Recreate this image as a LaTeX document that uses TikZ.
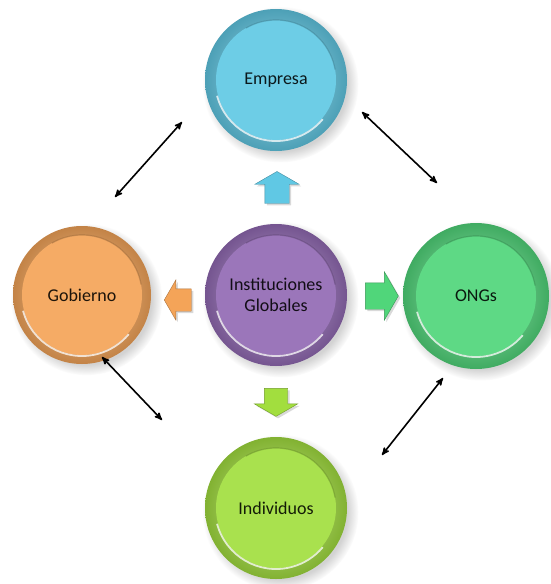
\documentclass[tikz,border=0pt]{standalone}
\usepackage{fontspec}
\setmainfont{Carlito}
\usetikzlibrary{
        arrows,
        positioning,
        shadows,
        shapes.arrows
    }
\definecolor{cEmpresa}{RGB}{96,200,228}
\definecolor{cInst}{RGB}{146,106,180}
\definecolor{cGob}{RGB}{244,164,88}
\definecolor{cOng}{RGB}{80,214,122}
\definecolor{cInd}{RGB}{162,222,62}
\tikzset{
    boton/.style={circle,minimum size=142pt,inner sep=0pt,align=center,
        font=\fontsize{18}{21}\selectfont,text=#1!12!black,
        outer color=#1!80!black,inner color=#1!55!white,
        circular drop shadow={shadow xshift=4pt,shadow yshift=-4pt,opacity=.35},
        path picture={
            \fill[#1!92!white] (path picture bounding box.center) circle (60pt);
            \draw[white,opacity=.75,line width=1.8pt]
                (path picture bounding box.center) ++(195:61pt) arc (195:320:61pt);
            \draw[#1!60!black,opacity=.45,line width=1.2pt]
                (path picture bounding box.center) ++(10:60pt) arc (10:120:60pt);
        }},
    flecha/.style={single arrow,draw=#1!70!black,fill=#1,
        single arrow tip angle=120,
        drop shadow={shadow xshift=2pt,shadow yshift=-2pt,opacity=.3}},
    enlace/.style={<->,>=stealth',line width=1.6pt}
}
\begin{document}
\begin{tikzpicture}[x=1pt,y=-1pt]
                    \useasboundingbox (0,0) rectangle (550,584);
                    \node[boton=cEmpresa] (emp) at (276,80)  {Empresa};
                    \node[boton=cInst]    (ins) at (276,295) {Instituciones\\Globales};
                    \node[boton=cGob,minimum size=138pt] (gob) at (82,295) {Gobierno};
                    \node[boton=cOng,minimum size=146pt] (ong) at (476,296) {ONGs};
                    \node[boton=cInd]     (ind) at (276,508) {Individuos};
                    % flechas del centro
                    \node[flecha=cEmpresa,shape border rotate=90,minimum height=32pt,
                        inner xsep=12pt,inner ysep=0pt,single arrow head extend=10pt] (fe) at (277,191) {};
                    \node[flecha=cGob,shape border rotate=180,minimum height=27pt,
                        inner xsep=0pt,inner ysep=11pt,single arrow head extend=9pt] (fg) at (181,300) {};
                    \node[flecha=cOng,shape border rotate=0,minimum height=33pt,
                        inner xsep=0pt,inner ysep=13pt,single arrow head extend=11pt] (fo) at (378,296) {};
                    \node[flecha=cInd,shape border rotate=270,minimum height=28pt,
                        inner xsep=11.5pt,inner ysep=0pt,single arrow head extend=10pt] (fi) at (276,399) {};
                    \coordinate (ge1) at (115,197);
                    \coordinate (ge2) at (182,122);
                    \coordinate (eo1) at (362,112);
                    \coordinate (eo2) at (437,183);
                    \coordinate (gi1) at (102,357);
                    \coordinate (gi2) at (162,420);
                    \coordinate (io1) at (382,455);
                    \coordinate (io2) at (443,378);
                    \path[enlace]
                        (ge1) edge (ge2)
                        (eo1) edge (eo2)
                        (gi1) edge (gi2)
                        (io1) edge (io2)
                        ;
                \end{tikzpicture}
\end{document}
